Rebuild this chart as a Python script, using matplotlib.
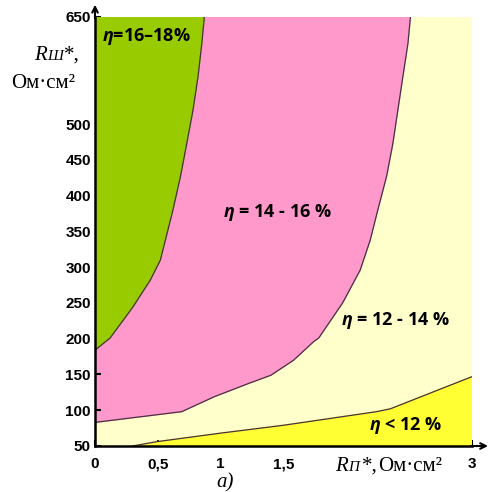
import matplotlib
matplotlib.use("Agg")
import matplotlib.pyplot as plt
import numpy as np

plt.rcParams['mathtext.fontset'] = 'custom'
plt.rcParams['mathtext.it'] = 'Open Sans:italic:bold'
plt.rcParams['mathtext.rm'] = 'Open Sans:bold'

# --- границы областей (R_П*, R_Ш*) ---
green_x = [0, 0.12, 0.30, 0.44, 0.52, 0.56, 0.62, 0.68, 0.73, 0.78, 0.82, 0.85, 0.87]
green_y = [184, 201, 244, 282, 310, 338, 380, 427, 473, 520, 567, 613, 650]

pink_x = [0, 0.69, 0.95, 1.23, 1.40, 1.58, 1.74, 1.78, 1.97, 2.11, 2.19,
          2.25, 2.32, 2.37, 2.41, 2.45, 2.49, 2.51]
pink_y = [83, 98, 119, 138, 149, 170, 196, 201, 250, 296, 338,
          380, 427, 473, 520, 567, 613, 650]

yellow_x = [0.30, 0.49, 1.0, 1.5, 2.24, 2.35, 3.0]
yellow_y = [50, 56, 68, 79, 98, 102, 147]

x_ticks = [0, 0.5, 1, 1.5, 2, 2.5, 3]
x_labels = ["0", "0,5", "1", "1,5", "", "", "3"]
y_ticks = [50, 100, 150, 200, 250, 300, 350, 400, 450, 500, 550, 600, 650]
y_labels = ["50", "100", "150", "200", "250", "300", "350", "400", "450", "500", "", "", "650"]

regions = [
    (r"$\eta$=16–18%", 0.41, 622),
    (r"$\eta$ = 14 - 16 %", 1.45, 377),
    (r"$\eta$ = 12 - 14 %", 2.39, 226),
    (r"$\eta$ < 12 %", 2.47, 79),
]

fig = plt.figure(figsize=(4.94, 4.92), dpi=100)
ax = fig.add_axes([0.1923, 0.0935, 0.7632, 0.872])
ax.set_xlim(0, 3)
ax.set_ylim(50, 650)
ax.set_facecolor("#FFFFCC")

edge = "#4a3040"
# розовая область
ax.fill(np.r_[pink_x, 0], np.r_[pink_y, 650], color="#FF99CC", zorder=1)
ax.plot(pink_x, pink_y, color=edge, lw=0.9, zorder=3)
# зелёная область
ax.fill(np.r_[green_x, 0], np.r_[green_y, 650], color="#99CC00", zorder=2)
ax.plot(green_x, green_y, color=edge, lw=0.9, zorder=3)
# жёлтая область
ax.fill(np.r_[yellow_x, 3], np.r_[yellow_y, 50], color="#FFFF33", zorder=2)
ax.plot(yellow_x, yellow_y, color=edge, lw=0.9, zorder=3)

for txt, x, y in regions:
    ax.text(x, y, txt, ha="center", va="center", fontsize=13,
            family="Open Sans", fontweight="bold", zorder=5)

# оси
for s in ["top", "right"]:
    ax.spines[s].set_visible(False)
for s in ["left", "bottom"]:
    ax.spines[s].set_linewidth(1.8)
    ax.spines[s].set_zorder(6)

ax.set_xticks(x_ticks)
ax.set_xticklabels(x_labels)
ax.set_yticks(y_ticks)
ax.set_yticklabels(y_labels)
ax.tick_params(direction="in", length=4, width=1.5, pad=3)
for lab in ax.get_xticklabels() + ax.get_yticklabels():
    lab.set_family("Liberation Sans")
    lab.set_fontweight("bold")
    lab.set_fontsize(11)
ax.tick_params(axis="x", pad=8)

# стрелки
ax.annotate("", xy=(0, 1.035), xytext=(0, 0.99), xycoords="axes fraction",
            arrowprops=dict(arrowstyle="->", lw=1.5, color="black"))
ax.annotate("", xy=(1.05, 0), xytext=(0.99, 0), xycoords="axes fraction",
            arrowprops=dict(arrowstyle="->", lw=1.5, color="black"))

# подписи осей
serif = "Liberation Serif"
fig.text(0.070, 0.878, "R", family=serif, style="italic", fontsize=15, ha="left", va="baseline")
fig.text(0.096, 0.878, "Ш", family=serif, style="italic", fontsize=11, ha="left", va="baseline")
fig.text(0.130, 0.878, "*,", family=serif, fontsize=15, ha="left", va="baseline")
fig.text(0.022, 0.822, "Ом·см²", family=serif, fontsize=15, ha="left", va="baseline")

fig.text(0.678, 0.043, "R", family=serif, style="italic", fontsize=15, ha="left", va="baseline")
fig.text(0.704, 0.043, "П", family=serif, style="italic", fontsize=11, ha="left", va="baseline")
fig.text(0.732, 0.043, "*,", family=serif, fontsize=15, ha="left", va="baseline")
fig.text(0.766, 0.043, "Ом·см²", family=serif, fontsize=15, ha="left", va="baseline")

fig.text(0.455, 0.010, "а)", family=serif, style="italic", fontsize=15, ha="center", va="baseline")

fig.savefig("out.png", dpi=100)
